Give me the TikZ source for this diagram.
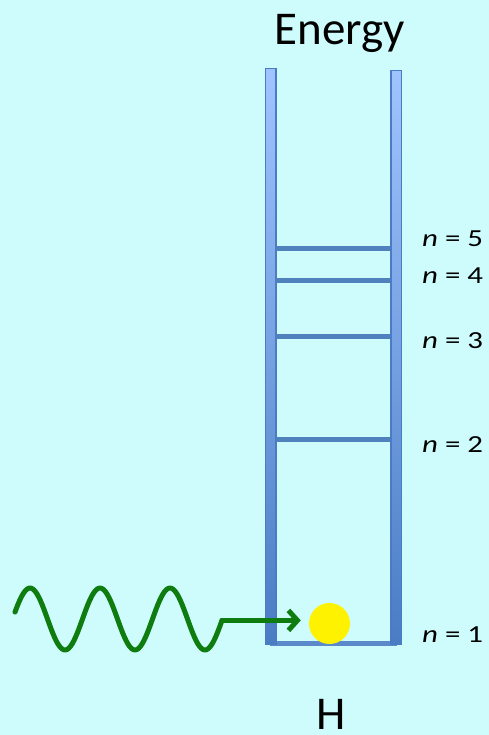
\documentclass[tikz,border=0pt]{standalone}
\usepackage{fontspec}
\setmainfont{Carlito}
\newfontfamily\labfont[FakeStretch=1.26]{Carlito}
\usetikzlibrary{arrows.meta}
\definecolor{bg}{RGB}{206,252,252}
\definecolor{wallline}{RGB}{74,124,196}
\definecolor{wtop}{RGB}{160,196,255}
\definecolor{wmid}{RGB}{138,178,242}
\definecolor{wbot}{RGB}{74,124,196}
\definecolor{levelc}{RGB}{79,129,189}
\definecolor{wavec}{RGB}{14,124,14}
\tikzset{
  wall/.style={draw=wallline, line width=1.5pt, top color=wtop, middle color=wmid, bottom color=wbot},
  level/.style={levelc, line width=5pt},
  lab/.style={anchor=base west, inner sep=0pt, font=\labfont\fontsize{24.5}{28}\selectfont},
  big/.style={anchor=base, inner sep=0pt, font=\fontsize{47}{52}\selectfont},
  wave/.style={wavec, line width=5pt, line cap=round, line join=round},
}
\begin{document}
\begin{tikzpicture}[x=1pt,y=-1pt]
\path[use as bounding box, fill=bg] (0,0) rectangle (489,735);
% bottom bar
\fill[wallline!90!white] (270,640.5) rectangle (397,646);
% walls
\path[wall] (265.5,68.5) rectangle (276,644);
\path[wall] (391,70.5) rectangle (401.5,644);
% levels
\draw[level] (276,248) -- (390,248);
\draw[level] (276,280.5) -- (390,280.5);
\draw[level] (276,336.5) -- (390,336.5);
\draw[level] (276,439) -- (390,439);
% labels
\node[lab] (n5) at (422,246) {\textit{n} = 5};
\node[lab] (n4) at (422,283) {\textit{n} = 4};
\node[lab] (n3) at (422,348) {\textit{n} = 3};
\node[lab] (n2) at (422,452) {\textit{n} = 2};
\node[lab] (n1) at (422,642) {\textit{n} = 1};
\node[big] (energy) at (340,44.5) {Energy};
\node[big] (h) at (331,729.5) {H};
% electron
\node[circle, fill=yellow, minimum size=41pt, inner sep=0pt] (e) at (329.5,623.5) {};
% photon
\coordinate (wend) at (222,620.4);
\draw[wave] plot[domain=15:222, samples=120, smooth] (\x, {619 - 31*sin((\x-12.5)*5.142857)});
\draw[wave, -{Straight Barb[length=9pt, width=20pt]}, shorten >=8pt] (wend) -- (wend -| e.west);
\end{tikzpicture}
\end{document}
